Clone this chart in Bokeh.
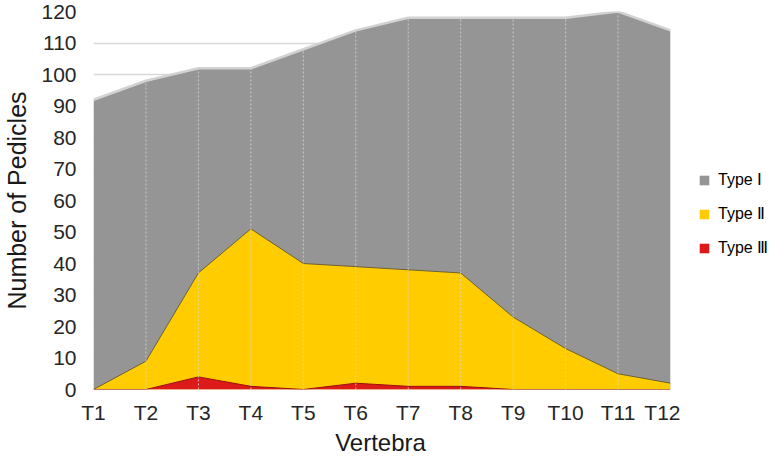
from bokeh.plotting import figure
from bokeh.layouts import row, column
from bokeh.models import Range1d, FixedTicker, Legend, LegendItem, Label
from bokeh.embed import file_html
from bokeh.resources import INLINE

vertebrae = ["T1", "T2", "T3", "T4", "T5", "T6", "T7", "T8", "T9", "T10", "T11", "T12"]
type_i = [92, 98, 102, 102, 108, 114, 118, 118, 118, 118, 120, 114]
type_ii = [0, 9, 37, 51, 40, 39, 38, 37, 23, 13, 5, 2]
type_iii = [0, 0, 4, 1, 0, 2, 1, 1, 0, 0, 0, 0]
y_ticks = list(range(0, 121, 10))
labels = ["Type Ⅰ", "Type Ⅱ", "Type Ⅲ"]
colors = ["#959595", "#ffcc00", "#dd1a1a"]
x_title = "Vertebra"
y_title = "Number of Pedicles"

x = list(range(1, len(vertebrae) + 1))
zeros = [0] * len(x)
FONT = "Liberation Sans"

p = figure(width=680, height=426, output_backend="svg", toolbar_location=None,
           x_range=Range1d(1, len(vertebrae)), y_range=Range1d(0, 120),
           min_border_left=90, min_border_right=10, min_border_top=11, min_border_bottom=37)
p.outline_line_color = None
p.background_fill_color = "white"

# areas
p.varea(x=x, y1=zeros, y2=type_i, fill_color=colors[0])
p.line(x, type_i, line_color="#d2d2d2", line_width=2.5)
p.varea(x=x, y1=zeros, y2=type_ii, fill_color=colors[1])
p.line(x, type_ii, line_color="#6e6233", line_width=1)
p.varea(x=x, y1=zeros, y2=type_iii, fill_color=colors[2])
p.line(x, type_iii, line_color="#9a1010", line_width=1)

# dotted category lines inside area
p.segment(x0=x, y0=zeros, x1=x, y1=type_i, line_color="#d8d8d8", line_alpha=0.8,
          line_width=1, line_dash="2 2")

# axes
for ax in (p.xaxis, p.yaxis):
    ax.axis_line_color = None
    ax.major_tick_line_color = None
    ax.minor_tick_line_color = None
    ax.major_tick_out = 0
    ax.major_tick_in = 0
    ax.minor_tick_out = 0
    ax.minor_tick_in = 0
    ax.major_label_text_font = FONT
    ax.major_label_text_color = "#262626"
    ax.axis_label_text_font = FONT
    ax.axis_label_text_font_style = "normal"
    ax.axis_label_text_color = "#1a1a1a"
    ax.axis_label_text_font_size = "25px"

p.xaxis.ticker = FixedTicker(ticks=x)
p.xaxis.major_label_overrides = {i: v for i, v in zip(x, vertebrae)}
p.xaxis.major_label_text_font_size = "21px"
p.xaxis.major_label_standoff = 11

p.yaxis.ticker = FixedTicker(ticks=y_ticks)
p.yaxis.major_label_text_font_size = "21px"
p.yaxis.major_label_standoff = 17
p.yaxis.axis_label = y_title
p.yaxis.axis_label_standoff = 7

p.xgrid.grid_line_color = None
p.ygrid.grid_line_color = "#d9d9d9"
p.ygrid.grid_line_width = 1.5

# legend panel
lf = figure(width=94, height=426, output_backend="svg", toolbar_location=None,
            x_range=Range1d(0, 1), y_range=Range1d(0, 1),
            min_border_left=0, min_border_right=0, min_border_top=11, min_border_bottom=37)
lf.axis.visible = False
lf.grid.grid_line_color = None
lf.outline_line_color = None
rs = [lf.varea(x=[0, 1], y1=[0, 0], y2=[0, 0], fill_color=c) for c in colors]

legend = Legend(items=[LegendItem(label=lab, renderers=[r]) for lab, r in zip(labels, rs)],
                location=(18, 132))
legend.border_line_color = None
legend.background_fill_alpha = 0
legend.label_text_font = FONT
legend.label_text_font_size = "16px"
legend.label_text_color = "#000000"
legend.glyph_width = 12
legend.glyph_height = 12
legend.label_height = 18
legend.spacing = 15
legend.padding = 0
legend.margin = 0
legend.label_standoff = 8
lf.add_layout(legend)

# x-axis title strip
bf = figure(width=680, height=31, output_backend="svg", toolbar_location=None,
            x_range=Range1d(1, len(vertebrae)), y_range=Range1d(0, 1),
            min_border_left=90, min_border_right=10, min_border_top=0, min_border_bottom=0)
bf.axis.visible = False
bf.grid.grid_line_color = None
bf.outline_line_color = None
bf.add_layout(Label(x=(1 + len(vertebrae)) / 2, y=0.5, text=x_title, text_align="center",
                    text_baseline="middle", text_font=FONT, text_font_size="24px",
                    text_color="#1a1a1a"))

layout = column(row(p, lf), bf)
open("out.html", "w").write(file_html(layout, INLINE))
